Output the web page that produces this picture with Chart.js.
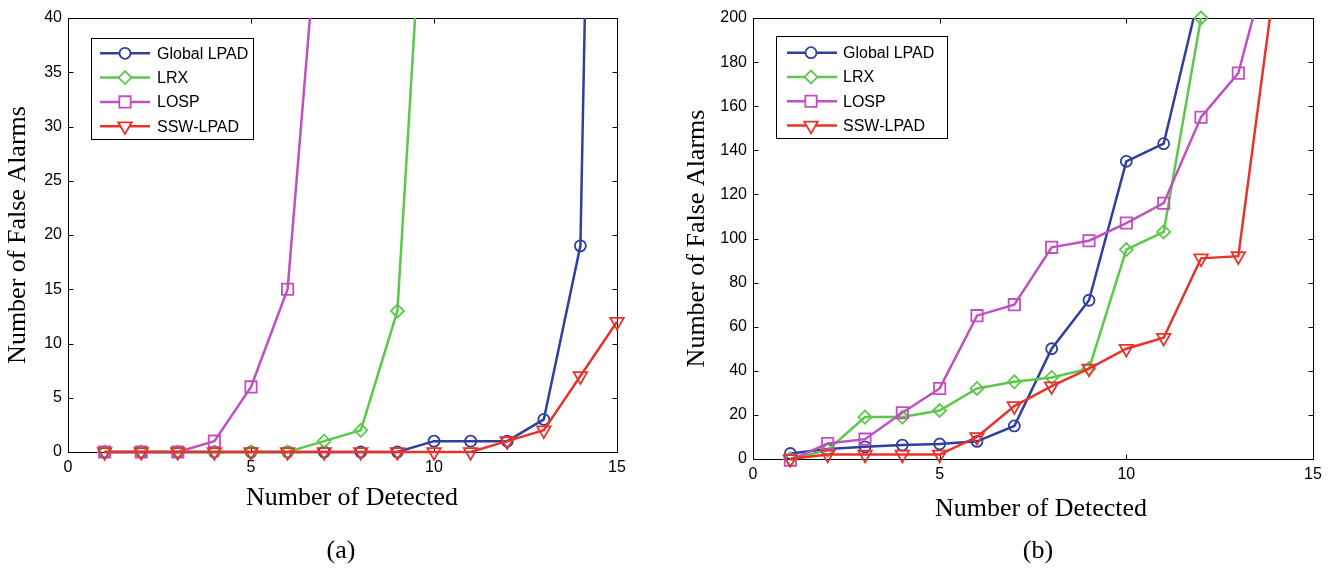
<!DOCTYPE html>
<html>
<head>
<meta charset="utf-8">
<script src="https://cdn.jsdelivr.net/npm/chart.js@4.4.1/dist/chart.umd.min.js"></script>
<style>
  html, body { margin: 0; padding: 0; background: #fff; }
  body { width: 1338px; height: 568px; position: relative; overflow: hidden; }
  .panel { position: absolute; top: 0; width: 669px; height: 568px; }
  .label {
    position: absolute; line-height: 30px; white-space: nowrap;
    font-family: 'Liberation Serif', 'Times New Roman', serif; font-size: 26px; color: #000;
    transform: translateX(-50%);
  }
</style>
</head>
<body>
<div class="panel" style="left:0"><canvas id="chartA" width="669" height="568"></canvas></div>
<div class="panel" style="left:669px"><canvas id="chartB" width="669" height="568"></canvas></div>
<div class="label" style="left:352px; top:482px">Number of Detected</div>
<div class="label" style="left:1041px; top:493px">Number of Detected</div>
<div class="label" style="left:341px; top:535px">(a)</div>
<div class="label" style="left:1038px; top:535px">(b)</div>
<script>
// Number of detected targets (x axis)
const detected = [1, 2, 3, 4, 5, 6, 7, 8, 9, 10, 11, 12, 13, 14, 15];
const seriesNames = ['Global LPAD', 'LRX', 'LOSP', 'SSW-LPAD'];

// --- Panel (a): false alarms ---
const globalA = [0, 0, 0, 0, 0, 0, 0, 0, 0, 1, 1, 1, 3, 19, 194];
const lrxA    = [0, 0, 0, 0, 0, 0, 1, 2, 13, 69];
const lospA   = [0, 0, 0, 1, 6, 15, 56];
const sswA    = [0, 0, 0, 0, 0, 0, 0, 0, 0, 0, 0, 1, 2, 7, 12];
const yTicksA = { max: 40, step: 5 };

// --- Panel (b): false alarms ---
const globalB = [2.5, 4.5, 5.5, 6.3, 6.8, 8, 15, 50, 72, 135, 143, 214];
const lrxB    = [0, 4, 19, 19, 22, 32, 35, 37, 41, 95, 103, 200];
const lospB   = [-0.5, 7, 9, 21, 32, 65, 70, 96, 99, 107, 116, 155, 175, 239];
const sswB    = [0, 2, 2, 2, 2, 10, 24, 33, 41, 50, 55, 91, 92, 220];
const yTicksB = { max: 200, step: 20 };

// line / marker styles, same order as seriesNames
const styles = [
    { color: '#2f3f9e', marker: 'circle',   radius: 5.5, rotation: 0 },
    { color: '#5cc84b', marker: 'rectRot',  radius: 6.5, rotation: 0 },
    { color: '#c050c0', marker: 'rect',     radius: 8,   rotation: 0 },
    { color: '#e6342b', marker: 'triangle', radius: 7.8, rotation: 180 }
];

const serif = "'Liberation Serif', 'Times New Roman', serif";
const sans = "'Liberation Sans', Arial, Helvetica, sans-serif";

function toPoints(values) {
    return values.map((v, i) => ({ x: detected[i], y: v }));
}

// --- Axes box with inward ticks on all four sides ---
const framePlugin = {
    id: 'frame',
    beforeDatasetsDraw(chart) {
        const { ctx, chartArea: a, scales } = chart;
        const L = Math.round(a.left) + 0.5, R = Math.round(a.right) + 0.5;
        const T = Math.round(a.top) + 0.5, B = Math.round(a.bottom) + 0.5;
        const len = 5;
        ctx.save();
        ctx.strokeStyle = '#000';
        ctx.lineWidth = 1;
        ctx.strokeRect(L, T, R - L, B - T);
        ctx.beginPath();
        scales.x.ticks.forEach(t => {
            const px = Math.round(scales.x.getPixelForValue(t.value)) + 0.5;
            ctx.moveTo(px, B); ctx.lineTo(px, B - len);
            ctx.moveTo(px, T); ctx.lineTo(px, T + len);
        });
        scales.y.ticks.forEach(t => {
            const py = Math.round(scales.y.getPixelForValue(t.value)) + 0.5;
            ctx.moveTo(L, py); ctx.lineTo(L + len, py);
            ctx.moveTo(R, py); ctx.lineTo(R - len, py);
        });
        ctx.stroke();
        ctx.restore();
    }
};

// --- Boxed legend inside the plot, MATLAB style ---
const boxLegendPlugin = {
    id: 'boxLegend',
    afterDraw(chart, args, opts) {
        const { ctx } = chart;
        ctx.save();
        ctx.fillStyle = '#fff';
        ctx.fillRect(opts.left, opts.top, opts.right - opts.left, opts.bottom - opts.top);
        ctx.strokeStyle = '#000';
        ctx.lineWidth = 1;
        ctx.strokeRect(opts.left + 0.5, opts.top + 0.5, opts.right - opts.left, opts.bottom - opts.top);
        chart.data.datasets.forEach((ds, i) => {
            const y = opts.rows[i];
            ctx.strokeStyle = ds.borderColor;
            ctx.lineWidth = ds.borderWidth;
            ctx.beginPath();
            ctx.moveTo(opts.lineX1, y);
            ctx.lineTo(opts.lineX2, y);
            ctx.stroke();
            ctx.fillStyle = '#fff';
            ctx.lineWidth = ds.pointBorderWidth;
            Chart.helpers.drawPoint(ctx, {
                pointStyle: ds.pointStyle, radius: ds.pointRadius,
                rotation: ds.pointRotation, borderWidth: ds.pointBorderWidth
            }, opts.markX, y);
            ctx.fillStyle = '#000';
            ctx.font = '16px ' + sans;
            ctx.textBaseline = 'middle';
            ctx.textAlign = 'left';
            ctx.fillText(ds.label, opts.textX, y + 1);
        });
        ctx.restore();
    }
};

function makeChart(id, seriesData, yTicks, geom) {
    const datasets = seriesData.map((vals, i) => ({
        label: seriesNames[i],
        data: toPoints(vals),
        borderColor: styles[i].color,
        borderWidth: 2.5,
        pointStyle: styles[i].marker,
        pointRadius: styles[i].radius,
        pointRotation: styles[i].rotation,
        pointBorderWidth: 1.8,
        pointBorderColor: styles[i].color,
        pointBackgroundColor: 'rgba(0,0,0,0)',
        tension: 0,
        order: 4 - i,
        clip: { left: 14, right: 14, bottom: 14, top: geom.clipTop[i] }
    }));

    return new Chart(document.getElementById(id), {
        type: 'line',
        data: { datasets },
        options: {
            responsive: false,
            animation: false,
            events: [],
            layout: { padding: { top: geom.top, right: geom.right, left: 0, bottom: 0 } },
            scales: {
                x: {
                    type: 'linear', min: 0, max: 15,
                    grid: { display: false, drawTicks: false },
                    border: { display: false },
                    ticks: { stepSize: 5, padding: 6, color: '#000', font: { family: sans, size: 16 } },
                    afterFit: s => { s.height = geom.xAxisH; }
                },
                y: {
                    type: 'linear', min: 0, max: yTicks.max,
                    grid: { display: false, drawTicks: false },
                    border: { display: false },
                    ticks: { stepSize: yTicks.step, padding: 6, color: '#000', font: { family: sans, size: 16 } },
                    title: {
                        display: true, text: 'Number of False Alarms', color: '#000',
                        font: { family: serif, size: 26 },
                        padding: { top: geom.yTitlePad, bottom: 0 }
                    },
                    afterFit: s => { s.width = geom.yAxisW; }
                }
            },
            plugins: {
                legend: { display: false },
                tooltip: { enabled: false },
                boxLegend: geom.legend
            }
        },
        plugins: [framePlugin, boxLegendPlugin]
    });
}

makeChart('chartA', [globalA, lrxA, lospA, sswA], yTicksA, {
    top: 18, right: 52, yAxisW: 68, xAxisH: 116,
    yTitlePad: 2.4,
    clipTop: [0, 0, 0, 0],
    legend: {
        left: 91, top: 38, right: 253, bottom: 139,
        rows: [53.3, 77.6, 101.9, 126.2],
        lineX1: 100, lineX2: 150, markX: 125, textX: 157
    }
});

makeChart('chartB', [globalB, lrxB, lospB, sswB], yTicksB, {
    top: 18, right: 25, yAxisW: 84, xAxisH: 109,
    yTitlePad: 12.4,
    clipTop: [0, 10, 0, 0],
    legend: {
        left: 107, top: 36, right: 278, bottom: 138,
        rows: [52.7, 77, 101.3, 125.6],
        lineX1: 118, lineX2: 168, markX: 142, textX: 174
    }
});
</script>
</body>
</html>
